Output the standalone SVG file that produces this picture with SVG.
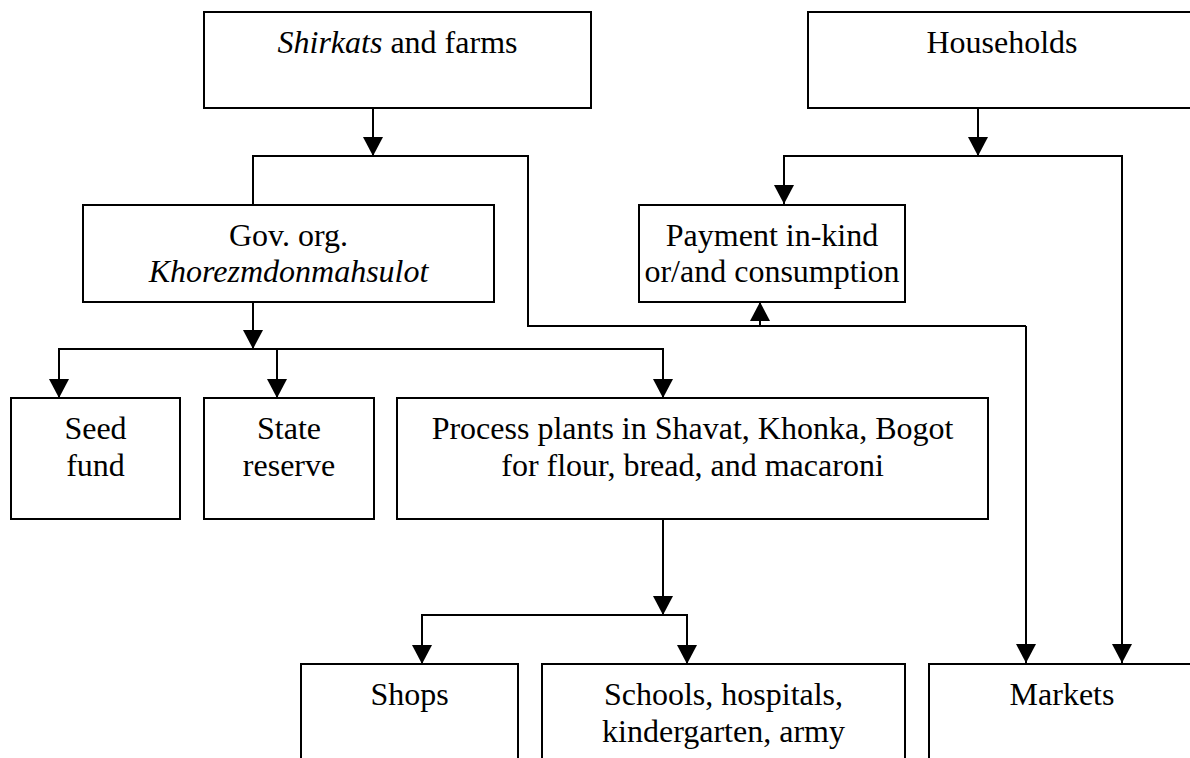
<svg xmlns="http://www.w3.org/2000/svg" width="1190" height="758" viewBox="0 0 1190 758">
<style>
.box{fill:#fff;stroke:#000;stroke-width:2}
.ln{fill:none;stroke:#000;stroke-width:2}
.arr{marker-end:url(#ah)}
text{font-family:"Liberation Serif","Times New Roman",serif;font-size:32px;fill:#000;text-anchor:middle}
.it{font-style:italic}
</style>
<defs>
<marker id="ah" markerUnits="userSpaceOnUse" viewBox="0 0 19 20" refX="19" refY="10" markerWidth="19" markerHeight="20" orient="auto">
<path d="M0,0 L19,10 L0,20 z" fill="#000"/>
</marker>
</defs>
<rect width="1190" height="758" fill="#fff"/>
<g id="connectors">
<path class="ln arr" d="M373,108 V156"/>
<path class="ln" d="M253,205 V156 H528 V326 H1026"/>
<path class="ln arr" d="M1026,326 V663"/>
<path class="ln arr" d="M760,326 V302"/>
<path class="ln arr" d="M978,108 V156"/>
<path class="ln arr" d="M978,156 H784 V204"/>
<path class="ln arr" d="M978,156 H1122 V663"/>
<path class="ln arr" d="M253,302 V349"/>
<path class="ln arr" d="M253,349 H59 V398"/>
<path class="ln arr" d="M277,349 V398"/>
<path class="ln arr" d="M253,349 H663 V398"/>
<path class="ln arr" d="M663,519 V615"/>
<path class="ln arr" d="M663,615 H422 V664"/>
<path class="ln arr" d="M663,615 H687 V664"/>
</g>
<g id="shirkats"><rect class="box" x="204" y="12" width="387" height="96"/><text x="397.5" y="53"><tspan class="it">Shirkats</tspan> and farms</text></g>
<g id="households"><rect class="box" x="808" y="12" width="390" height="96"/><text x="1002" y="53">Households</text></g>
<g id="gov"><rect class="box" x="83" y="205" width="411" height="97"/><text x="288.5" y="246">Gov. org.</text><text class="it" x="288.5" y="282">Khorezmdonmahsulot</text></g>
<g id="payment"><rect class="box" x="639" y="205" width="266" height="97"/><text x="772" y="246">Payment in-kind</text><text x="772" y="282">or/and consumption</text></g>
<g id="seed"><rect class="box" x="11" y="398" width="169" height="121"/><text x="95.5" y="439">Seed</text><text x="95.5" y="476">fund</text></g>
<g id="state"><rect class="box" x="204" y="398" width="170" height="121"/><text x="289" y="439">State</text><text x="289" y="476">reserve</text></g>
<g id="process"><rect class="box" x="397" y="398" width="591" height="121"/><text x="692.5" y="439">Process plants in Shavat, Khonka, Bogot</text><text x="692.5" y="476">for flour, bread, and macaroni</text></g>
<g id="shops"><rect class="box" x="301" y="664" width="217" height="120"/><text x="409.5" y="705">Shops</text></g>
<g id="schools"><rect class="box" x="542" y="664" width="363" height="120"/><text x="723.5" y="705">Schools, hospitals,</text><text x="723.5" y="742">kindergarten, army</text></g>
<g id="markets"><rect class="box" x="929" y="664" width="266" height="120"/><text x="1062" y="705">Markets</text></g>
</svg>
